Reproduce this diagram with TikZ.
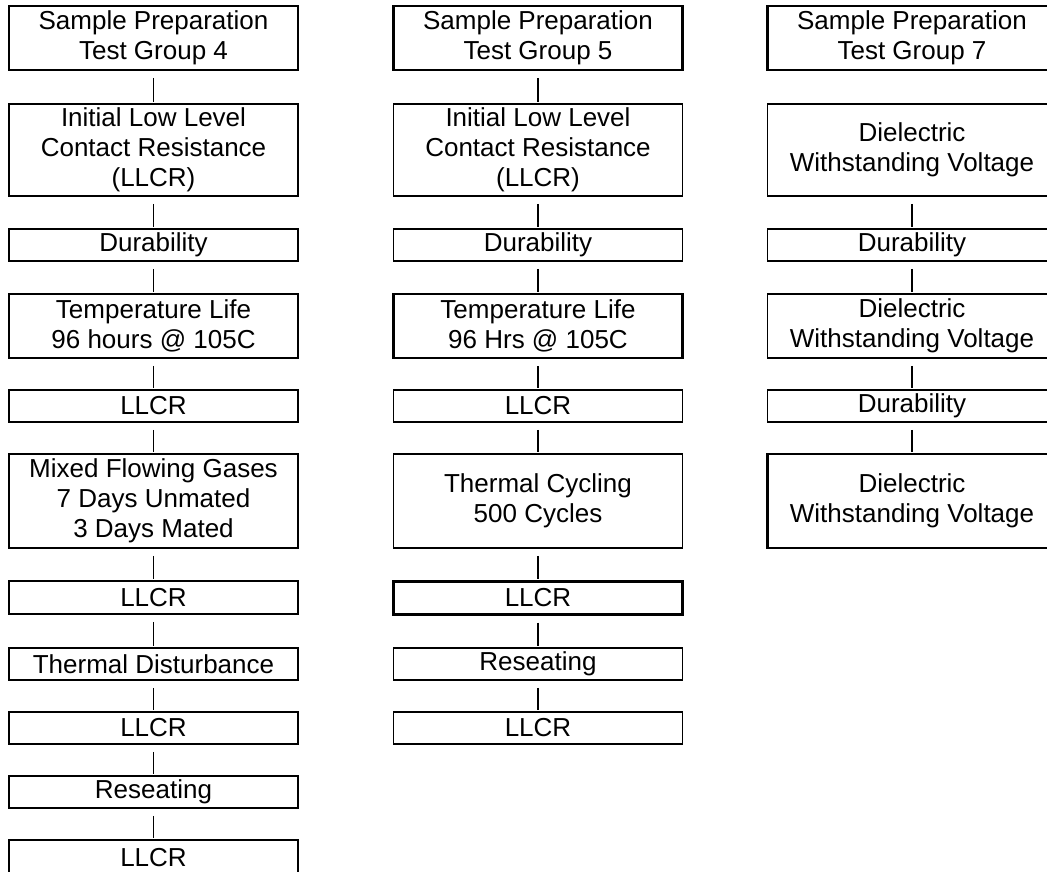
\documentclass[tikz,border=0pt]{standalone}
\usepackage{fontspec}
\setmainfont{Liberation Sans}
\usetikzlibrary{positioning}

\begin{document}
\begin{tikzpicture}[x=1pt,y=-1pt,
  bx/.style={draw,line width=1.8pt,inner sep=0pt,minimum width=289pt,align=center,
    font=\fontsize{26}{30}\selectfont},
  lnk/.style={line width=1.3pt,shorten <=7pt,shorten >=1pt}]
  \useasboundingbox (0,0) rectangle (1047,871);
  \clip (0,0) rectangle (1047,871);
  % test group 4
  \node[bx,minimum height=64pt] (sp4) at (153.5,38) {Sample Preparation\\Test Group 4};
  \node[bx,minimum height=92pt] (ini4) at (153.5,150) {Initial Low Level\\Contact Resistance\\(LLCR)};
  \node[bx,minimum height=32pt] (dur4) at (153.5,245) {Durability};
  \node[bx,minimum height=64pt] (tl4) at (153.5,326) {Temperature Life\\96 hours @ 105C};
  \node[bx,minimum height=32pt] (la4) at (153.5,406) {LLCR};
  \node[bx,minimum height=94pt] (mfg4) at (153.5,501) {Mixed Flowing Gases\\7 Days Unmated\\3 Days Mated};
  \node[bx,minimum height=33pt] (lb4) at (153.5,597.5) {LLCR};
  \node[bx,minimum height=32pt] (td4) at (153.5,664) {Thermal Disturbance};
  \node[bx,minimum height=32pt] (lc4) at (153.5,728) {LLCR};
  \node[bx,minimum height=32pt] (rs4) at (153.5,792) {Reseating};
  \node[bx,minimum height=36pt] (ld4) at (153.5,858) {LLCR};
  % test group 5
  \node[bx,minimum height=64pt,line width=2.4pt] (sp5) at (538,38) {Sample Preparation\\Test Group 5};
  \node[bx,minimum height=92pt] (ini5) at (538,150) {Initial Low Level\\Contact Resistance\\(LLCR)};
  \node[bx,minimum height=32pt] (dur5) at (538,245) {Durability};
  \node[bx,minimum height=64pt,line width=2.2pt] (tl5) at (538,326) {Temperature Life\\96 Hrs @ 105C};
  \node[bx,minimum height=32pt] (la5) at (538,406) {LLCR};
  \node[bx,minimum height=94pt] (tc5) at (538,501) {Thermal Cycling\\500 Cycles};
  \node[bx,minimum height=33pt,line width=3pt] (lb5) at (538,597.5) {LLCR};
  \node[bx,minimum height=32pt] (rs5) at (538,664) {Reseating};
  \node[bx,minimum height=32pt] (lc5) at (538,728) {LLCR};
  % test group 7
  \node[bx,minimum height=64pt,line width=2.2pt] (sp7) at (912,38) {Sample Preparation\\Test Group 7};
  \node[bx,minimum height=92pt] (dwa7) at (912,150) {Dielectric\\Withstanding Voltage};
  \node[bx,minimum height=32pt] (dura7) at (912,245) {Durability};
  \node[bx,minimum height=64pt] (dwb7) at (912,326) {Dielectric\\Withstanding Voltage};
  \node[bx,minimum height=32pt] (durb7) at (912,406) {Durability};
  \node[bx,minimum height=94pt,line width=2.2pt] (dwc7) at (912,501) {Dielectric\\Withstanding Voltage};
  % links
  \draw[lnk] (sp4) -- (ini4);
  \draw[lnk] (ini4) -- (dur4);
  \draw[lnk] (dur4) -- (tl4);
  \draw[lnk] (tl4) -- (la4);
  \draw[lnk] (la4) -- (mfg4);
  \draw[lnk] (mfg4) -- (lb4);
  \draw[lnk] (lb4) -- (td4);
  \draw[lnk] (td4) -- (lc4);
  \draw[lnk] (lc4) -- (rs4);
  \draw[lnk] (rs4) -- (ld4);
  \draw[lnk] (sp5) -- (ini5);
  \draw[lnk] (ini5) -- (dur5);
  \draw[lnk] (dur5) -- (tl5);
  \draw[lnk] (tl5) -- (la5);
  \draw[lnk] (la5) -- (tc5);
  \draw[lnk] (tc5) -- (lb5);
  \draw[lnk] (lb5) -- (rs5);
  \draw[lnk] (rs5) -- (lc5);
  \draw[lnk] (dwa7) -- (dura7);
  \draw[lnk] (dura7) -- (dwb7);
  \draw[lnk] (dwb7) -- (durb7);
  \draw[lnk] (durb7) -- (dwc7);
\end{tikzpicture}
\end{document}
